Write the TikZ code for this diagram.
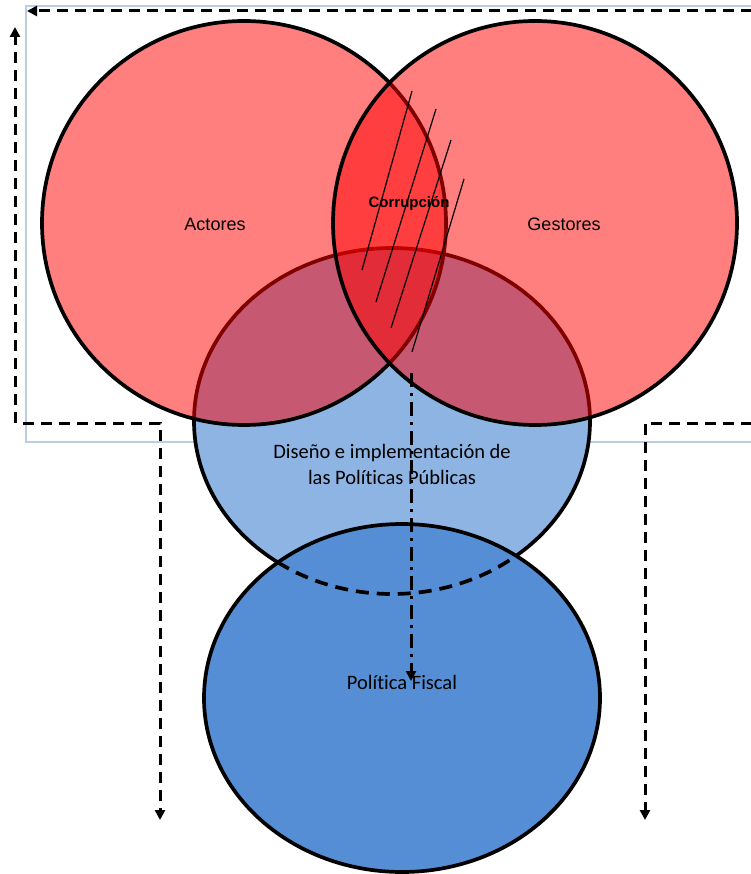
\documentclass[tikz,border=0pt]{standalone}
\usepackage{fontspec}
\setmainfont{Liberation Sans}
\newfontfamily\calibri[Ligatures=NoCommon]{Carlito}
\usetikzlibrary{arrows.meta}

\definecolor{celeste}{RGB}{142,180,227}
\definecolor{azul}{RGB}{85,142,213}
\definecolor{marco}{RGB}{185,205,229}

\begin{document}
\begin{tikzpicture}[x=1pt,y=-1pt,
  circulo/.style={line width=3.7pt},
  rojo/.style={circulo, fill=red, fill opacity=0.5},
  flecha/.style={line width=3pt, dash pattern=on 11pt off 7pt,
    -{Triangle[length=10pt,width=10pt]}},
  texto/.style={font=\calibri\fontsize{20.5}{26}\selectfont, align=center}]

\useasboundingbox (0,0) rectangle (750,874);

\draw[marco, line width=1.2pt] (26,6) rectangle (760,442);

% circulos
\draw[circulo, fill=celeste] (392,421) ellipse (198 and 173);
\draw[rojo] (244,223) circle (202);
\draw[rojo] (535,223) circle (202);

\foreach \xa/\ya/\xb/\yb in {412/91/362/270, 436/109/376/302, 451/140/391/328, 464/179/412/352}
  \draw[line width=1.2pt] (\xa,\ya) -- (\xb,\yb);

\draw[circulo, fill=azul] (402,698) ellipse (198 and 174);
\begin{scope}
  \clip (402,698) ellipse (198 and 174);
  \draw[circulo, dash pattern=on 13pt off 8pt] (392,421) ellipse (198 and 173);
\end{scope}

% textos
\node[font=\fontsize{18}{22}\selectfont, anchor=base] (actores) at (215,231) {Actores};
\node[font=\fontsize{18}{22}\selectfont, anchor=base] (gestores) at (564,231) {Gestores};
\node[font=\bfseries\fontsize{15}{17}\selectfont, anchor=base] (corrupcion) at (409,207.5) {Corrupción};
\node[texto] (diseno) at (392,464) {Diseño e implementación de\\las Políticas Públicas};
\node[texto, anchor=base] (fiscal) at (402,689) {Política Fiscal};

% flechas
\coordinate (arribaD) at (752,11);
\coordinate (arribaI) at (27,11);
\coordinate (izqB) at (15,423);
\coordinate (izqA) at (15,27);
\coordinate (bajaI) at (23,423);
\coordinate (codoI) at (160,423);
\coordinate (finI) at (160,820);
\coordinate (bajaD) at (752,423);
\coordinate (codoD) at (645,423);
\coordinate (finD) at (645,820);
\coordinate (centroA) at (411,373);
\coordinate (centroB) at (411,681);

\draw[flecha] (arribaD) -- (arribaI);
\draw[flecha] (izqB) -- (izqA);
\draw[flecha] (bajaI) -- (codoI) -- (finI);
\draw[flecha] (bajaD) -- (codoD) -- (finD);
\draw[line width=3pt, dash pattern=on 14pt off 6pt on 3pt off 6pt,
  -{Triangle[length=10pt,width=10pt]}] (centroA) -- (centroB);

\end{tikzpicture}
\end{document}
